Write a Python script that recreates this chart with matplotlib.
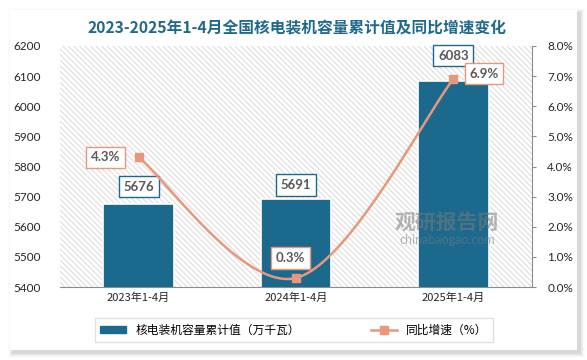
import numpy as np
import matplotlib
matplotlib.use("Agg")
import matplotlib.pyplot as plt
from matplotlib.patches import Rectangle
from matplotlib.lines import Line2D

plt.rcParams['font.family'] = ['Noto Sans CJK SC', 'DejaVu Sans']
plt.rcParams['hatch.linewidth'] = 0.6

# data
categories = ['2023年1-4月', '2024年1-4月', '2025年1-4月']
capacity = [5676, 5691, 6083]          # 万千瓦
growth = [4.3, 0.3, 6.9]               # %

title = '2023-2025年1-4月全国核电装机容量累计值及同比增速变化'
bar_name = '核电装机容量累计值（万千瓦）'
line_name = '同比增速（%）'

BAR = '#1b6a8e'
LINE = '#e9977a'
TXT = '#595959'

W, H = 587, 360
fig = plt.figure(figsize=(W / 100, H / 100), dpi=100)
fig.patch.set_facecolor('white')

# card with soft shadow
for i, a in enumerate([0.05, 0.04, 0.03, 0.02, 0.012]):
    d = i + 1
    fig.add_artist(Rectangle(((10 - d + 3) / W, (10 - d - 3) / H), (567 + 2 * d) / W, (340 + 2 * d) / H,
                             transform=fig.transFigure, facecolor='black', alpha=a, lw=0, zorder=-2))
fig.add_artist(Rectangle((10 / W, 10 / H), 567 / W, 340 / H, transform=fig.transFigure,
                         facecolor='white', lw=0, zorder=-1))

ax = fig.add_axes([60 / W, (H - 287) / H, 472 / W, 241 / H])
ax.set_zorder(1)
ax.patch.set_alpha(0)
ax.add_patch(Rectangle((0, 0), 1, 1, transform=ax.transAxes, facecolor='white',
                       edgecolor='#d4d4d4', hatch='\\' * 6, lw=0, zorder=0))

x = np.arange(len(categories))
bars = ax.bar(x, capacity, width=0.45, color=BAR, edgecolor='white', linewidth=1.2, zorder=2)
ax.set_xlim(-0.5, 2.5)
ax.set_ylim(5400, 6200)
ax.set_yticks(np.arange(5400, 6201, 100))
ax.set_xticks(x)
ax.set_xticklabels(categories, fontsize=8, color='#262626')
ax.tick_params(axis='y', length=0, pad=14, labelsize=8.5, labelcolor='#262626')
ax.tick_params(axis='x', length=0, pad=4)
for lbl in ax.get_yticklabels():
    lbl.set_family(['Lato', 'DejaVu Sans'])
for s in ['top', 'left', 'right']:
    ax.spines[s].set_visible(False)
ax.spines['bottom'].set_color('#8c8c8c')

bar_offsets = [8, 6, 14]
for xi, v, off in zip(x, capacity, bar_offsets):
    ax.annotate(str(v), (xi, v), xytext=(0, off), textcoords='offset points',
                ha='center', va='bottom', fontsize=9.5, fontweight='bold', color=TXT,
                family=['Lato', 'DejaVu Sans'], zorder=5,
                bbox=dict(boxstyle='square,pad=0.35', fc='white', ec=BAR, lw=1))

ax2 = ax.twinx()
ax2.set_zorder(2)
ax2.patch.set_visible(False)
ax2.set_ylim(0, 8)
ax2.set_yticks(np.arange(0, 8.01, 1))
ax2.set_yticklabels([f'{t:.1f}%' for t in np.arange(0, 8.01, 1)], family=['Lato', 'DejaVu Sans'])
ax2.tick_params(axis='y', length=3, color='#8c8c8c', pad=8, labelsize=8.5, labelcolor='#262626')
for s in ['top', 'left', 'bottom']:
    ax2.spines[s].set_visible(False)
ax2.spines['right'].set_color('#8c8c8c')

# smoothed line (bezier through the data points)
px = np.array(x, dtype=float)
py = np.array(growth, dtype=float)
ex = np.concatenate([[px[0]], px, [px[-1]]])
ey = np.concatenate([[py[0]], py, [py[-1]]])
cx, cy = [], []
t = np.linspace(0, 1, 60)
for i in range(len(px) - 1):
    p0 = np.array([px[i], py[i]])
    p3 = np.array([px[i + 1], py[i + 1]])
    p1 = p0 + (np.array([ex[i + 2], ey[i + 2]]) - np.array([ex[i], ey[i]])) / 6
    p2 = p3 - (np.array([ex[i + 3], ey[i + 3]]) - np.array([ex[i + 1], ey[i + 1]])) / 6
    b = ((1 - t) ** 3)[:, None] * p0 + (3 * (1 - t) ** 2 * t)[:, None] * p1 \
        + (3 * (1 - t) * t ** 2)[:, None] * p2 + (t ** 3)[:, None] * p3
    cx.extend(b[:, 0])
    cy.extend(b[:, 1])
ax2.plot(cx, cy, color=LINE, lw=1.8, zorder=3)
ax2.plot(px, py, 's', color=LINE, ms=6, zorder=4)

line_offsets = [(-24, 0, 'center', 'center'), (-4, 10, 'center', 'bottom'), (22, 4, 'center', 'center')]
for xi, v, (dx, dy, ha, va) in zip(px, py, line_offsets):
    ax2.annotate(f'{v:.1f}%', (xi, v), xytext=(dx, dy), textcoords='offset points',
                 ha=ha, va=va, fontsize=9.5, fontweight='bold', color=TXT,
                 family=['Lato', 'DejaVu Sans'], zorder=6,
                 bbox=dict(boxstyle='square,pad=0.35', fc='white', ec=LINE, lw=1))

# watermark
fig.text(447 / W, 1 - 222 / H, '观研报告网', fontsize=15, fontweight='bold', color='#7a7a7a',
         alpha=0.55, ha='center', va='center', zorder=10)
fig.text(447 / W, 1 - 240 / H, 'chinabaogao.com', fontsize=9, color='#7a7a7a',
         alpha=0.55, ha='center', va='center', zorder=10, family=['Lato', 'DejaVu Sans'])

fig.text(297 / W, 1 - 28 / H, title, fontsize=11.3, fontweight='bold', color='#1f6a8c',
         ha='center', va='center')

handles = [Rectangle((0, 0), 1, 1, color=BAR),
           Line2D([0], [0], color=LINE, lw=1.8, marker='s', ms=6)]
leg = fig.legend(handles, [bar_name, line_name], loc='center', bbox_to_anchor=(294 / W, 1 - 330 / H),
                 ncol=2, fontsize=8.5, frameon=True, fancybox=False, edgecolor='#d9d9d9',
                 columnspacing=6, handlelength=2.2, handleheight=0.5, borderpad=0.45)
leg.get_frame().set_linewidth(1)

fig.savefig('out.png', dpi=100)
